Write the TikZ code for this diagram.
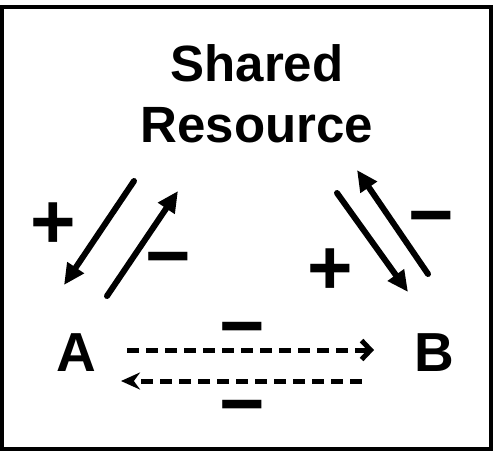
\documentclass[tikz,border=0pt]{standalone}
\usepackage{fontspec}
\setmainfont{Liberation Sans}
\usetikzlibrary{arrows.meta}

\begin{document}
\begin{tikzpicture}[x=1pt,y=-1pt,
    title/.style={font=\fontsize{51}{61}\selectfont\bfseries,align=center,inner sep=0pt},
    species/.style={font=\fontsize{55}{55}\selectfont\bfseries,inner sep=0pt,anchor=base},
    signlbl/.style={font=\fontsize{78}{78}\selectfont\bfseries,inner sep=0pt,anchor=base},
    effect/.style={line width=6pt,line cap=round,-{Triangle[length=21pt,width=19pt]}},
    compete/.style={line width=5pt,dash pattern=on 12pt off 7pt}]
    \useasboundingbox (0,0) rectangle (494,451);

    % Frame
    \draw[line width=4pt] (2,7) rectangle (491,449);

    % Resource and the two users
    \node[title] (res) at (257,94) {Shared\\Resource};
    \node[species] (A) at (76,371) {A};
    \node[species] (B) at (434,371) {B};

    % Ends of the arrows
    \coordinate (resA) at (134,181);
    \coordinate (Ares) at (64,285);
    \coordinate (Aup) at (107,296);
    \coordinate (resAup) at (178,191);
    \coordinate (resB) at (337,193);
    \coordinate (Bres) at (408,292);
    \coordinate (Bup) at (428,274);
    \coordinate (resBup) at (357,170);
    \coordinate (AB) at (127,350);
    \coordinate (BA) at (374,350);
    \coordinate (BAback) at (362,381);
    \coordinate (ABback) at (121,381);

    % Resource <-> A
    \draw[effect] (resA) -- (Ares);
    \draw[effect] (Aup) -- (resAup);
    \node[signlbl] at (53,248) {+};
    \node[signlbl] at (168,282) {−};

    % Resource <-> B
    \draw[effect] (resB) -- (Bres);
    \draw[effect] (Bup) -- (resBup);
    \node[signlbl] at (330,294) {+};
    \node[signlbl] at (431,241) {−};

    % A <-> B, dashed
    \draw[compete,-{Straight Barb[length=9pt,width=19pt]}] (AB) -- (BA);
    \draw[compete,-{Stealth[length=19pt,width=17pt]}] (BAback) -- (ABback);
    \node[signlbl] at (242,352) {−};
    \node[signlbl] at (242,430) {−};
\end{tikzpicture}
\end{document}
